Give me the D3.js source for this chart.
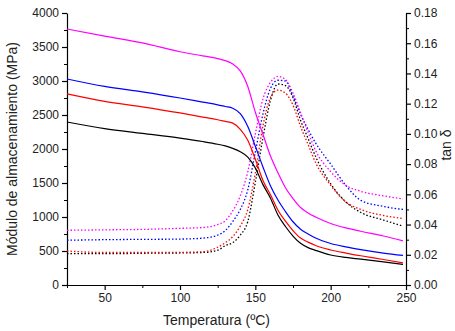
<!DOCTYPE html>
<html><head><meta charset="utf-8">
<script src="https://cdn.jsdelivr.net/npm/d3@7"></script>
<style>body{margin:0;background:#fff}svg{display:block}text{font-family:"Liberation Sans",Arial,sans-serif;fill:#222}</style>
</head><body><svg id="c" width="455" height="331"></svg>
<script>
const temps = [25, 50, 75, 100, 115, 125, 130, 135, 140, 145, 150, 155, 160, 165, 170, 175, 180, 185, 190, 200, 210, 220, 235, 248];
const seriesNames = ["magenta", "blue", "red", "black"];
const seriesColors = ["#ff00ff", "#0000ff", "#ff0000", "#000000"];
const modMagenta = [3765, 3660, 3560, 3430, 3370, 3330, 3300, 3250, 3150, 2920, 2540, 2220, 1900, 1650, 1430, 1270, 1140, 1060, 1000, 905, 840, 790, 720, 650];
const modBlue = [3030, 2920, 2840, 2750, 2690, 2650, 2625, 2600, 2520, 2330, 2040, 1740, 1460, 1250, 1080, 930, 820, 750, 690, 610, 560, 520, 470, 435];
const modRed = [2810, 2700, 2620, 2530, 2470, 2430, 2405, 2380, 2290, 2130, 1850, 1540, 1330, 1100, 940, 800, 690, 630, 580, 515, 470, 430, 375, 325];
const modBlack = [2397, 2300, 2230, 2160, 2110, 2070, 2045, 2010, 1960, 1880, 1720, 1480, 1280, 1030, 860, 720, 613, 550, 510, 441, 405, 380, 340, 304];
const tanMagenta = [0.0362, 0.0365, 0.0368, 0.0375, 0.038, 0.040, 0.0425, 0.049, 0.059, 0.075, 0.100, 0.123, 0.134, 0.138, 0.136, 0.127, 0.114, 0.101, 0.089, 0.075, 0.066, 0.062, 0.059, 0.057];
const tanBlue = [0.0296, 0.030, 0.0302, 0.0304, 0.031, 0.033, 0.036, 0.042, 0.050, 0.063, 0.088, 0.113, 0.130, 0.1355, 0.135, 0.125, 0.113, 0.103, 0.094, 0.080, 0.066, 0.056, 0.052, 0.050];
const tanRed = [0.0225, 0.0215, 0.0215, 0.0216, 0.022, 0.025, 0.028, 0.032, 0.039, 0.050, 0.074, 0.105, 0.124, 0.129, 0.127, 0.119, 0.105, 0.093, 0.081, 0.066, 0.055, 0.050, 0.046, 0.044];
const tanBlack = [0.0207, 0.0207, 0.021, 0.0212, 0.0215, 0.023, 0.026, 0.028, 0.033, 0.042, 0.068, 0.097, 0.122, 0.133, 0.132, 0.124, 0.109, 0.097, 0.085, 0.067, 0.055, 0.048, 0.043, 0.039];
const xTicks = [50, 100, 150, 200, 250];
const yLeftTicks = [0, 500, 1000, 1500, 2000, 2500, 3000, 3500, 4000];
const yRightTicks = [0, 0.02, 0.04, 0.06, 0.08, 0.10, 0.12, 0.14, 0.16, 0.18];

const modSeries = [modMagenta, modBlue, modRed, modBlack];
const tanSeries = [tanMagenta, tanBlue, tanRed, tanBlack];

const svg = d3.select("#c");
const L = 67, R = 406, T = 13, B = 285;
const x = d3.scaleLinear().domain([25, 250]).range([L, R]);
const yL = d3.scaleLinear().domain([0, 4000]).range([B, T]);
const yR = d3.scaleLinear().domain([0, 0.18]).range([B, T]);

// axes
function styleAxis(g){ g.selectAll("path,line").attr("stroke","#000").attr("stroke-width",1.2); g.selectAll("text").attr("font-size",12).attr("fill","#222"); }
const gx = svg.append("g").attr("transform",`translate(0,${B})`).call(d3.axisBottom(x).tickValues(xTicks).tickSize(5).tickSizeOuter(0).tickPadding(3));
styleAxis(gx);
svg.append("g").attr("transform",`translate(0,${B})`).call(d3.axisBottom(x).tickValues([25,75,125,175,225]).tickSize(3).tickSizeOuter(0).tickFormat("")).call(g=>{g.select(".domain").remove();g.selectAll("line").attr("stroke","#000");});
const gl = svg.append("g").attr("transform",`translate(${L},0)`).call(d3.axisLeft(yL).tickValues(yLeftTicks).tickSize(5).tickSizeOuter(0).tickPadding(3).tickFormat(d3.format("d")));
styleAxis(gl);
svg.append("g").attr("transform",`translate(${L},0)`).call(d3.axisLeft(yL).tickValues(d3.range(250,4000,500)).tickSize(3).tickFormat("")).call(g=>{g.select(".domain").remove();g.selectAll("line").attr("stroke","#000");});
const gr = svg.append("g").attr("transform",`translate(${R},0)`).call(d3.axisRight(yR).tickValues(yRightTicks).tickSize(5).tickSizeOuter(0).tickPadding(3).tickFormat(d3.format(".2f")));
styleAxis(gr);
svg.append("g").attr("transform",`translate(${R},0)`).call(d3.axisRight(yR).tickValues(d3.range(0.01,0.18,0.02)).tickSize(3).tickFormat("")).call(g=>{g.select(".domain").remove();g.selectAll("line").attr("stroke","#000");});

// labels
svg.append("text").attr("x",(L+R)/2-20).attr("y",325).attr("text-anchor","middle").attr("font-size",14).text("Temperatura (ºC)");
svg.append("text").attr("transform",`translate(17,${(T+B)/2}) rotate(-90)`).attr("text-anchor","middle").attr("font-size",14).text("Módulo de almacenamiento (MPa)");
svg.append("text").attr("transform",`translate(451,145) rotate(-90)`).attr("text-anchor","middle").attr("font-size",14).text("tan δ");

// lines
const lineMod = d3.line().x((d,i)=>x(temps[i])).y(d=>yL(d)).curve(d3.curveMonotoneX);
const lineTan = d3.line().x((d,i)=>x(temps[i])).y(d=>yR(d)).curve(d3.curveMonotoneX);
const order = [3,2,1,0];
order.forEach(k=>{
  svg.append("path").datum(tanSeries[k]).attr("d",lineTan).attr("fill","none").attr("stroke",seriesColors[k]).attr("stroke-width",1.3).attr("stroke-dasharray","1.5,2");
});
order.forEach(k=>{
  svg.append("path").datum(modSeries[k]).attr("d",lineMod).attr("fill","none").attr("stroke",seriesColors[k]).attr("stroke-width",1.2);
});
</script></body></html>
